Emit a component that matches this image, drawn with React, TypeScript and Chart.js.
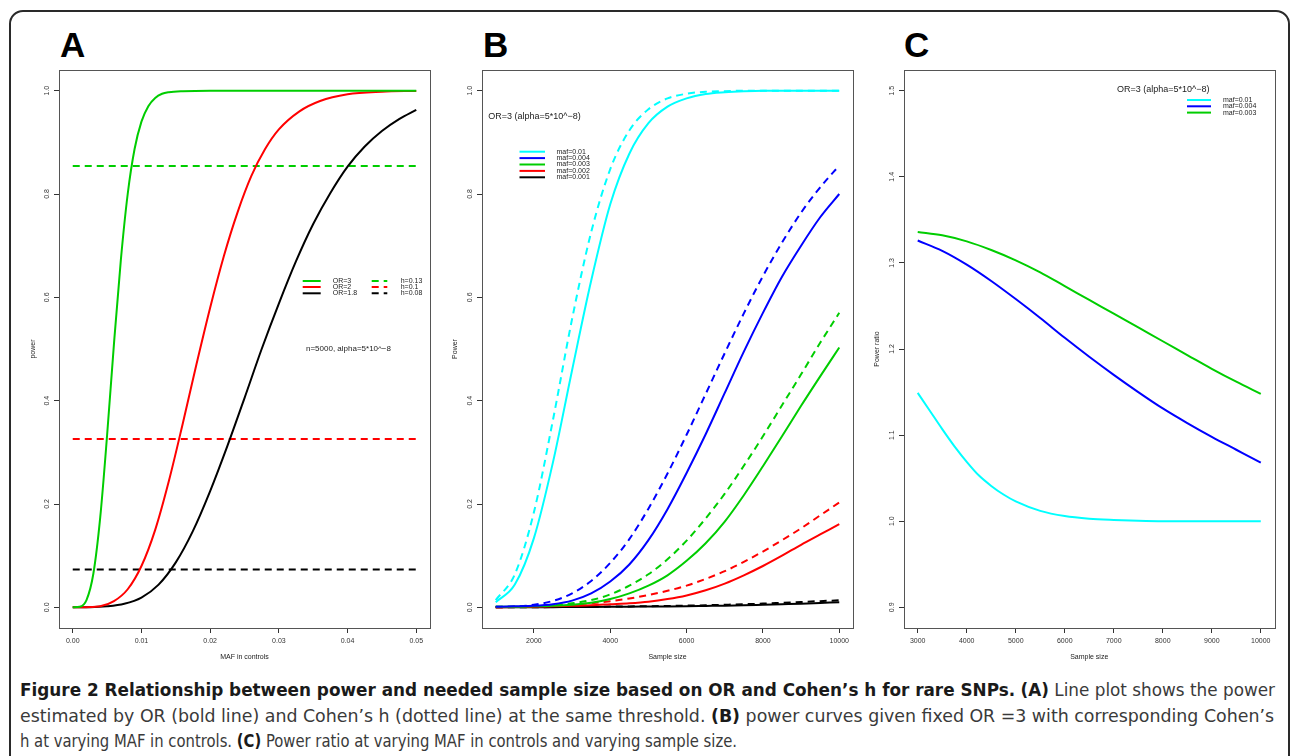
import React, { useEffect, useLayoutEffect, useRef } from "react";
import { Chart, registerables } from "chart.js";
Chart.register(...registerables);

const FONT = '"Liberation Sans", Arial, Helvetica, sans-serif';

// ---------------- Panel A data ----------------
const A_X_TICKS = [0, 0.01, 0.02, 0.03, 0.04, 0.05];
const A_X_LABELS = ["0.00", "0.01", "0.02", "0.03", "0.04", "0.05"];
const A_Y_TICKS = [0, 0.2, 0.4, 0.6, 0.8, 1.0];
const A_Y_LABELS = ["0.0", "0.2", "0.4", "0.6", "0.8", "1.0"];

const A_OR3_MAF = [0, 0.001, 0.002, 0.003, 0.004, 0.005, 0.006, 0.007, 0.008, 0.009, 0.01, 0.011, 0.012, 0.013, 0.014, 0.016, 0.02, 0.03, 0.04, 0.05];
const A_OR3_POWER = [0, 0.001, 0.014, 0.065, 0.174, 0.333, 0.51, 0.672, 0.8, 0.887, 0.94, 0.97, 0.986, 0.994, 0.997, 0.999, 1.0, 1.0, 1.0, 1.0];

const A_OR2_MAF = [0, 0.002, 0.004, 0.006, 0.008, 0.01, 0.012, 0.014, 0.016, 0.018, 0.02, 0.022, 0.024, 0.026, 0.028, 0.03, 0.033, 0.036, 0.04, 0.045, 0.05];
const A_OR2_POWER = [0, 0.0003, 0.002, 0.012, 0.035, 0.08, 0.15, 0.245, 0.355, 0.47, 0.58, 0.68, 0.765, 0.835, 0.887, 0.925, 0.96, 0.98, 0.993, 0.998, 0.9995];

const A_OR18_MAF = [0, 0.0025, 0.005, 0.0075, 0.01, 0.0125, 0.015, 0.0175, 0.02, 0.0225, 0.025, 0.0275, 0.03, 0.0325, 0.035, 0.0375, 0.04, 0.0425, 0.045, 0.0475, 0.05];
const A_OR18_POWER = [0, 0.0002, 0.002, 0.007, 0.019, 0.044, 0.087, 0.148, 0.225, 0.312, 0.405, 0.5, 0.588, 0.67, 0.742, 0.802, 0.853, 0.892, 0.922, 0.945, 0.963];

const A_H_MAF = [0, 0.05];
const A_H013_POWER = [0.854, 0.854];
const A_H01_POWER = [0.326, 0.326];
const A_H008_POWER = [0.073, 0.073];

// ---------------- Panel B data ----------------
const B_X_TICKS = [2000, 4000, 6000, 8000, 10000];
const B_X_LABELS = ["2000", "4000", "6000", "8000", "10000"];
const B_Y_TICKS = [0, 0.2, 0.4, 0.6, 0.8, 1.0];
const B_Y_LABELS = ["0.0", "0.2", "0.4", "0.6", "0.8", "1.0"];
const B_N = [1000, 1500, 2000, 2500, 3000, 3500, 4000, 4500, 5000, 5500, 6000, 6500, 7000, 7500, 8000, 8500, 9000, 9500, 10000];

const B_MAF01_OR = [0.01, 0.044, 0.134, 0.281, 0.459, 0.632, 0.78, 0.878, 0.937, 0.969, 0.985, 0.9935, 0.997, 0.999, 1.0, 1.0, 1.0, 1.0, 1.0];
const B_MAF004_OR = [0.001, 0.002, 0.003, 0.006, 0.013, 0.027, 0.05, 0.083, 0.13, 0.19, 0.26, 0.335, 0.415, 0.495, 0.57, 0.64, 0.7, 0.755, 0.8];
const B_MAF003_OR = [0.001, 0.001, 0.002, 0.003, 0.005, 0.009, 0.016, 0.027, 0.042, 0.062, 0.09, 0.124, 0.166, 0.217, 0.273, 0.331, 0.39, 0.447, 0.503];
const B_MAF002_OR = [0, 0.0005, 0.001, 0.002, 0.003, 0.004, 0.006, 0.008, 0.011, 0.016, 0.023, 0.033, 0.046, 0.062, 0.08, 0.1, 0.121, 0.141, 0.161];
const B_MAF001_OR = [0, 0, 0.0002, 0.0004, 0.0006, 0.0008, 0.001, 0.0012, 0.0015, 0.0018, 0.0022, 0.0027, 0.0032, 0.004, 0.005, 0.006, 0.007, 0.0085, 0.01];

const B_MAF01_H = [0.014, 0.064, 0.184, 0.363, 0.558, 0.726, 0.848, 0.923, 0.964, 0.985, 0.994, 0.998, 0.999, 1.0, 1.0, 1.0, 1.0, 1.0, 1.0];
const B_MAF004_H = [0.001, 0.0015, 0.005, 0.0125, 0.027, 0.051, 0.086, 0.132, 0.191, 0.259, 0.334, 0.413, 0.492, 0.569, 0.641, 0.706, 0.764, 0.813, 0.855];
const B_MAF003_H = [0.001, 0.001, 0.002, 0.004, 0.008, 0.014, 0.025, 0.042, 0.064, 0.093, 0.129, 0.172, 0.22, 0.274, 0.331, 0.391, 0.451, 0.512, 0.57];
const B_MAF002_H = [0, 0.001, 0.002, 0.003, 0.005, 0.008, 0.012, 0.017, 0.024, 0.032, 0.042, 0.055, 0.07, 0.088, 0.108, 0.13, 0.153, 0.178, 0.203];
const B_MAF001_H = [0, 0.0001, 0.0003, 0.0005, 0.0008, 0.001, 0.0014, 0.0018, 0.0022, 0.0027, 0.0033, 0.004, 0.005, 0.006, 0.0072, 0.0088, 0.0104, 0.012, 0.0136];

// ---------------- Panel C data ----------------
const C_X_TICKS = [3000, 4000, 5000, 6000, 7000, 8000, 9000, 10000];
const C_X_LABELS = ["3000", "4000", "5000", "6000", "7000", "8000", "9000", "10000"];
const C_Y_TICKS = [0.9, 1.0, 1.1, 1.2, 1.3, 1.4, 1.5];
const C_Y_LABELS = ["0.9", "1.0", "1.1", "1.2", "1.3", "1.4", "1.5"];
const C_N = [3000, 3500, 4000, 4500, 5000, 5500, 6000, 6500, 7000, 7500, 8000, 8500, 9000, 9500, 10000];
const C_N_MAF01 = [3000, 3250, 3500, 3750, 4000, 4250, 4500, 4750, 5000, 5500, 6000, 6500, 7000, 7500, 8000, 9000, 10000];
const C_MAF01_RATIO = [1.149, 1.128, 1.107, 1.087, 1.069, 1.053, 1.041, 1.031, 1.023, 1.012, 1.006, 1.003, 1.0015, 1.0005, 1.0, 1.0, 1.0];
const C_MAF004_RATIO = [1.326, 1.314, 1.298, 1.279, 1.258, 1.236, 1.213, 1.191, 1.17, 1.15, 1.131, 1.114, 1.098, 1.083, 1.068];
const C_MAF003_RATIO = [1.336, 1.332, 1.325, 1.315, 1.303, 1.289, 1.273, 1.257, 1.241, 1.225, 1.209, 1.193, 1.177, 1.162, 1.148];

// ---------------- Caption ----------------
const CAPTION_LINES: { b: boolean; t: string }[][] = [
  [
    { b: true, t: "Figure 2 Relationship between power and needed sample size based on OR and Cohen’s h for rare SNPs." },
    { b: false, t: " " },
    { b: true, t: "(A)" },
    { b: false, t: " Line plot shows the power" },
  ],
  [
    { b: false, t: "estimated by OR (bold line) and Cohen’s h (dotted line) at the same threshold. " },
    { b: true, t: "(B)" },
    { b: false, t: " power curves given fixed OR =3 with corresponding Cohen’s" },
  ],
  [
    { b: false, t: "h at varying MAF in controls. " },
    { b: true, t: "(C)" },
    { b: false, t: " Power ratio at varying MAF in controls and varying sample size." },
  ],
];
const CAPTION_WIDTHS = [1255, 1254, 717];

// ---------------- helpers ----------------
const GREEN = "#00CD00";
const RED = "#FF0000";
const BLACK = "#000000";
const CYAN = "#00FFFF";
const BLUE = "#0000FF";
const DASH = [7, 5];

const pts = (xs: number[], ys: number[]) => xs.map((x, i) => ({ x, y: ys[i] }));

function line(label: string, xs: number[], ys: number[], color: string, dashed: boolean) {
  return {
    label,
    data: pts(xs, ys),
    borderColor: color,
    backgroundColor: color,
    borderWidth: 2,
    borderDash: dashed ? DASH : [],
    pointRadius: 0,
    fill: false,
    cubicInterpolationMode: "monotone",
  };
}

const rDecor = {
  id: "rDecor",
  afterDatasetsDraw(chart: any, _args: any, opts: any) {
    const { ctx, chartArea: ca } = chart;
    ctx.save();
    ctx.strokeStyle = "#555";
    ctx.lineWidth = 1;
    ctx.setLineDash([]);
    const l = Math.round(ca.left) + 0.5;
    const t = Math.round(ca.top) + 0.5;
    const r = Math.round(ca.right) + 0.5;
    const b = Math.round(ca.bottom) + 0.5;
    ctx.strokeRect(l, t, r - l, b - t);

    ctx.fillStyle = "#222";
    ctx.textAlign = "left";
    ctx.textBaseline = "middle";
    for (const n of opts.notes || []) {
      ctx.font = `${n.size}px ${FONT}`;
      ctx.fillText(n.text, ca.left + n.dx, ca.top + n.dy);
    }
    ctx.font = `7px ${FONT}`;
    for (const it of opts.legend || []) {
      const ds = chart.data.datasets[it.index];
      ctx.strokeStyle = ds.borderColor;
      ctx.lineWidth = 2;
      ctx.setLineDash(ds.borderDash || []);
      ctx.beginPath();
      ctx.moveTo(ca.left + it.x0, ca.top + it.dy);
      ctx.lineTo(ca.left + it.x1, ca.top + it.dy);
      ctx.stroke();
      ctx.setLineDash([]);
      ctx.fillStyle = "#222";
      ctx.fillText(ds.label, ca.left + it.tx, ca.top + it.dy);
    }
    ctx.restore();
  },
};

function makeConfig(p: any) {
  const tickFont = { size: 7, family: FONT };
  return {
    type: "line",
    data: { datasets: p.datasets },
    options: {
      animation: false,
      responsive: false,
      devicePixelRatio: 1,
      layout: { padding: { left: 0, top: p.padTop, right: p.padRight, bottom: 0 } },
      plugins: { legend: { display: false }, tooltip: { enabled: false }, rDecor: p.decor },
      scales: {
        x: {
          type: "linear",
          min: p.xmin,
          max: p.xmax,
          afterBuildTicks: (s: any) => {
            s.ticks = p.xticks.map((v: number) => ({ value: v }));
          },
          afterFit: (s: any) => {
            s.height = p.xh;
          },
          ticks: {
            callback: (v: number) => p.xlabels[p.xticks.indexOf(v)],
            font: tickFont,
            color: "#333",
            padding: 4,
            autoSkip: false,
            minRotation: 0,
            maxRotation: 0,
          },
          grid: { display: true, drawOnChartArea: false, drawTicks: true, tickLength: 5, color: "#333" },
          border: { display: false },
          title: {
            display: true,
            text: p.xtitle,
            font: { size: 7, family: FONT },
            color: "#222",
            padding: { top: 0, bottom: 10.3 },
          },
        },
        y: {
          type: "linear",
          min: p.ymin,
          max: p.ymax,
          afterBuildTicks: (s: any) => {
            s.ticks = p.yticks.map((v: number) => ({ value: v }));
          },
          afterFit: (s: any) => {
            s.width = p.yw;
          },
          ticks: {
            callback: (v: number) => p.ylabels[p.yticks.findIndex((t: number) => Math.abs(t - v) < 1e-9)],
            font: tickFont,
            color: "#333",
            padding: 2,
            autoSkip: false,
            minRotation: 90,
            maxRotation: 90,
            crossAlign: "center",
          },
          grid: { display: true, drawOnChartArea: false, drawTicks: true, tickLength: 5, color: "#333" },
          border: { display: false },
          title: {
            display: true,
            text: p.ytitle,
            font: { size: 7, family: FONT },
            color: "#222",
            padding: { top: p.ytitlePad, bottom: 0 },
          },
        },
      },
    },
    plugins: [rDecor],
  };
}

const PANEL_A = () =>
  makeConfig({
    datasets: [
      line("OR=3", A_OR3_MAF, A_OR3_POWER, GREEN, false),
      line("OR=2", A_OR2_MAF, A_OR2_POWER, RED, false),
      line("OR=1.8", A_OR18_MAF, A_OR18_POWER, BLACK, false),
      line("h=0.13", A_H_MAF, A_H013_POWER, GREEN, true),
      line("h=0.1", A_H_MAF, A_H01_POWER, RED, true),
      line("h=0.08", A_H_MAF, A_H008_POWER, BLACK, true),
    ],
    xmin: -0.002,
    xmax: 0.052,
    ymin: -0.04,
    ymax: 1.04,
    xticks: A_X_TICKS,
    xlabels: A_X_LABELS,
    yticks: A_Y_TICKS,
    ylabels: A_Y_LABELS,
    xtitle: "MAF in controls",
    ytitle: "power",
    ytitlePad: 13.8,
    xh: 44,
    yw: 44,
    padTop: 10,
    padRight: 10,
    decor: {
      notes: [{ text: "n=5000, alpha=5*10^\u22128", dx: 247, dy: 279, size: 8 }],
      legend: [
        { index: 0, x0: 243.7, x1: 261.7, tx: 273.7, dy: 211 },
        { index: 1, x0: 243.7, x1: 261.7, tx: 273.7, dy: 217 },
        { index: 2, x0: 243.7, x1: 261.7, tx: 273.7, dy: 223.3 },
        { index: 3, x0: 312.7, x1: 328.3, tx: 341.7, dy: 211 },
        { index: 4, x0: 312.7, x1: 328.3, tx: 341.7, dy: 217 },
        { index: 5, x0: 312.7, x1: 328.3, tx: 341.7, dy: 223.3 },
      ],
    },
  });

const PANEL_B = () =>
  makeConfig({
    datasets: [
      line("maf=0.01", B_N, B_MAF01_OR, CYAN, false),
      line("maf=0.004", B_N, B_MAF004_OR, BLUE, false),
      line("maf=0.003", B_N, B_MAF003_OR, GREEN, false),
      line("maf=0.002", B_N, B_MAF002_OR, RED, false),
      line("maf=0.001", B_N, B_MAF001_OR, BLACK, false),
      line("h maf=0.01", B_N, B_MAF01_H, CYAN, true),
      line("h maf=0.004", B_N, B_MAF004_H, BLUE, true),
      line("h maf=0.003", B_N, B_MAF003_H, GREEN, true),
      line("h maf=0.002", B_N, B_MAF002_H, RED, true),
      line("h maf=0.001", B_N, B_MAF001_H, BLACK, true),
    ],
    xmin: 640,
    xmax: 10360,
    ymin: -0.04,
    ymax: 1.04,
    xticks: B_X_TICKS,
    xlabels: B_X_LABELS,
    yticks: B_Y_TICKS,
    ylabels: B_Y_LABELS,
    xtitle: "Sample size",
    ytitle: "Power",
    ytitlePad: 10.8,
    xh: 44,
    yw: 42,
    padTop: 10,
    padRight: 12,
    decor: {
      notes: [{ text: "OR=3 (alpha=5*10^\u22128)", dx: 6.3, dy: 46.5, size: 9 }],
      legend: [0, 1, 2, 3, 4].map((i) => ({ index: i, x0: 37.5, x1: 63, tx: 74.5, dy: 81.7 + 6.4 * i })),
    },
  });

const PANEL_C = () =>
  makeConfig({
    datasets: [
      line("maf=0.01", C_N_MAF01, C_MAF01_RATIO, CYAN, false),
      line("maf=0.004", C_N, C_MAF004_RATIO, BLUE, false),
      line("maf=0.003", C_N, C_MAF003_RATIO, GREEN, false),
    ],
    xmin: 2720,
    xmax: 10280,
    ymin: 0.876,
    ymax: 1.524,
    xticks: C_X_TICKS,
    xlabels: C_X_LABELS,
    yticks: C_Y_TICKS,
    ylabels: C_Y_LABELS,
    xtitle: "Sample size",
    ytitle: "Power ratio",
    ytitlePad: 10.8,
    xh: 44,
    yw: 42,
    padTop: 10,
    padRight: 12.5,
    decor: {
      notes: [{ text: "OR=3 (alpha=5*10^\u22128)", dx: 213, dy: 20, size: 9 }],
      legend: [0, 1, 2].map((i) => ({ index: i, x0: 283, x1: 307, tx: 319, dy: 30 + 6.3 * i })),
    },
  });

function ChartCanvas({ make, left, top, width, height }: any) {
  const ref = useRef<HTMLCanvasElement | null>(null);
  useEffect(() => {
    const chart = new Chart(ref.current as HTMLCanvasElement, make() as any);
    return () => chart.destroy();
  }, []);
  return (
    <canvas
      ref={ref}
      width={width}
      height={height}
      style={{ position: "absolute", left, top, width, height }}
    />
  );
}

const letterStyle = (left: number): React.CSSProperties => ({
  position: "absolute",
  left,
  top: 27,
  fontFamily: FONT,
  fontWeight: 700,
  fontSize: 35,
  lineHeight: "35px",
  color: "#000",
});

export default function App() {
  const capRefs = useRef<(HTMLDivElement | null)[]>([]);
  useLayoutEffect(() => {
    const fit = () => {
      capRefs.current.forEach((el, i) => {
        if (!el) return;
        el.style.transform = "none";
        const w = el.getBoundingClientRect().width;
        if (w > 0) el.style.transform = `scaleX(${CAPTION_WIDTHS[i] / w})`;
      });
    };
    fit();
    if ((document as any).fonts && (document as any).fonts.ready) (document as any).fonts.ready.then(fit);
  }, []);

  return (
    <div
      style={{
        position: "fixed",
        left: 0,
        top: 0,
        width: 1293,
        height: 756,
        background: "#fff",
        overflow: "hidden",
      }}
    >
      <div
        style={{
          position: "absolute",
          left: 9,
          top: 10,
          width: 1281,
          height: 800,
          border: "2px solid #2a2a2a",
          borderRadius: 14,
          boxSizing: "border-box",
        }}
      />
      <div style={letterStyle(60)}>A</div>
      <div style={letterStyle(483)}>B</div>
      <div style={letterStyle(904)}>C</div>
      <ChartCanvas make={PANEL_A} left={15} top={60} width={425} height={612} />
      <ChartCanvas make={PANEL_B} left={440} top={60} width={425} height={612} />
      <ChartCanvas make={PANEL_C} left={862} top={60} width={425} height={612} />
      {CAPTION_LINES.map((ln, i) => (
        <div
          key={i}
          ref={(el) => {
            capRefs.current[i] = el;
          }}
          style={{
            position: "absolute",
            left: 20,
            top: 680 + i * 25.5,
            whiteSpace: "nowrap",
            display: "inline-block",
            transformOrigin: "0 0",
            fontFamily: '"Liberation Sans Narrow", "DejaVu Sans Condensed", "Liberation Sans", Arial, sans-serif',
            fontSize: 17,
            lineHeight: "20px",
            color: "#3a3a3a",
          }}
        >
          {ln.map((s, j) => (
            <span key={j} style={{ fontWeight: s.b ? 700 : 400, color: s.b ? "#1a1a1a" : "#3a3a3a" }}>
              {s.t}
            </span>
          ))}
        </div>
      ))}
    </div>
  );
}
